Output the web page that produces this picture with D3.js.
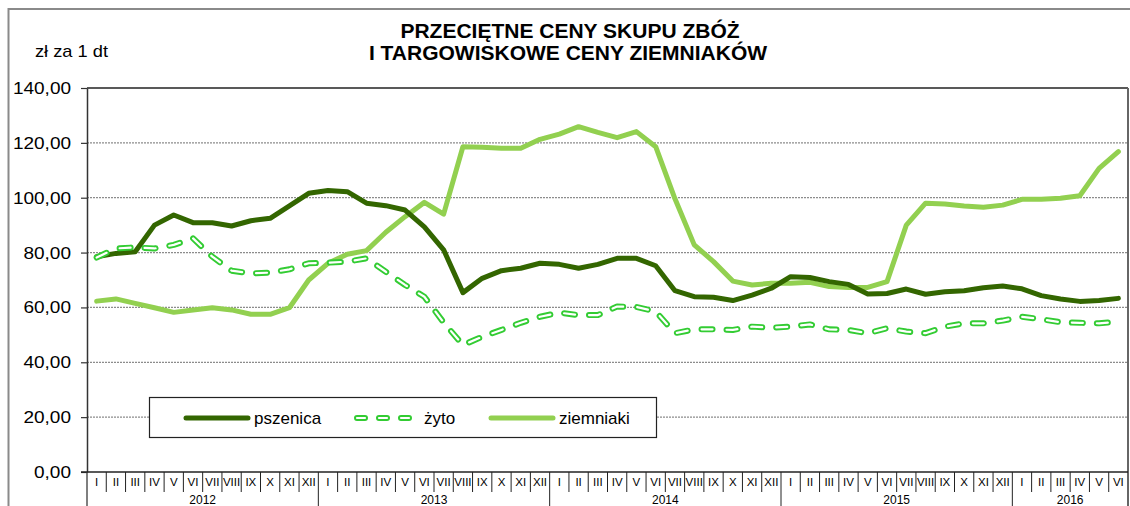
<!DOCTYPE html>
<html>
<head>
<meta charset="utf-8">
<script src="https://cdn.jsdelivr.net/npm/d3@7"></script>
<style>
  body { margin: 0; background: #fff; }
  svg { display: block; font-family: "Liberation Sans", Arial, sans-serif; }
</style>
</head>
<body>
<div class="container"></div>
<script>
// month labels and years on the category axis
const monthNames = ["I","II","III","IV","V","VI","VII","VIII","IX","X","XI","XII"];
const years = ["2012", "2013", "2014", "2015", "2016"];
const monthsIn2016 = 6;

// prices, zł za 1 dt, from I 2012 to VI 2016
const pszenica = [78.5, 79.7, 80.3, 90.0, 93.7, 90.9, 90.9, 89.7, 91.6, 92.5, 97.0, 101.6,
                  102.6, 102.2, 98.0, 97.1, 95.5, 89.4, 81.0, 65.4, 70.6, 73.4, 74.3, 76.1,
                  75.7, 74.3, 75.7, 77.9, 77.9, 75.2, 66.1, 63.9, 63.7, 62.5, 64.5, 67.0,
                  71.2, 70.9, 69.4, 68.4, 64.9, 65.1, 66.7, 64.8, 65.7, 66.1, 67.2, 67.8,
                  66.8, 64.3, 63.1, 62.2, 62.5, 63.3];
const zyto = [78.2, 81.5, 81.9, 81.5, 82.8, 85.2, 78.5, 73.4, 72.4, 72.7, 73.9, 76.1,
              76.3, 76.7, 77.9, 73.0, 68.2, 63.9, 54.5, 46.3, 49.3, 51.8, 54.4, 56.6,
              58.1, 57.2, 57.2, 60.3, 60.2, 58.5, 50.6, 52.0, 52.0, 51.8, 53.0, 52.6,
              53.0, 53.8, 52.0, 51.8, 50.6, 52.4, 51.2, 50.6, 53.0, 54.2, 54.2, 55.2,
              56.6, 55.7, 54.6, 54.4, 54.2, 54.8];
const ziemniaki = [62.3, 63.1, 61.5, 59.9, 58.2, 59.1, 59.9, 59.1, 57.5, 57.5, 59.9, 70.0,
                   76.1, 79.4, 80.7, 87.4, 93.1, 98.3, 94.0, 118.6, 118.4, 118.0, 118.0, 121.3,
                   123.2, 125.9, 123.8, 121.9, 124.1, 118.6, 99.6, 82.8, 76.7, 69.6, 68.2, 68.8,
                   68.8, 69.2, 67.6, 67.3, 67.3, 69.4, 90.0, 98.0, 97.7, 97.0, 96.5, 97.3,
                   99.4, 99.4, 99.8, 100.7, 110.7, 116.8];

const yTicks = [0, 20, 40, 60, 80, 100, 120, 140];

const colPszenica = "#336600";
const colZyto = "#33cc33";
const colZiemniaki = "#92d050";

const width = 1130, height = 506;
const margin = {left: 87, right: 2, top: 88, bottom: 34};

// build the category list (one entry per month)
const periods = [];
years.forEach((y, yi) => {
  const n = (yi === years.length - 1) ? monthsIn2016 : 12;
  for (let m = 0; m < n; m++) periods.push({year: y, month: monthNames[m], key: y + "-" + m});
});

const svg = d3.select(".container").append("svg")
  .attr("width", width).attr("height", height);

// outer frame of the chart
svg.append("rect")
  .attr("x", 8.5).attr("y", 9)
  .attr("width", width + 20).attr("height", height + 20)
  .attr("fill", "none").attr("stroke", "#8a8a8a").attr("stroke-width", 2);

const x = d3.scaleBand()
  .domain(periods.map(d => d.key))
  .range([margin.left, width - margin.right]);

const y = d3.scaleLinear()
  .domain([0, 140])
  .range([height - margin.bottom, margin.top]);

const fmt = v => d3.format(".2f")(v).replace(".", ",");

// horizontal dotted gridlines
svg.append("g")
  .selectAll("line")
  .data(yTicks.filter(t => t > 0 && t < 140))
  .enter().append("line")
  .attr("x1", margin.left).attr("x2", width - margin.right)
  .attr("y1", d => y(d)).attr("y2", d => y(d))
  .attr("stroke", "#8c8c8c").attr("stroke-width", 1.2)
  .attr("stroke-dasharray", "2,1");

// plot area top and right edges
svg.append("line")
  .attr("x1", margin.left).attr("x2", width - margin.right)
  .attr("y1", y(140)).attr("y2", y(140))
  .attr("stroke", "#222").attr("stroke-width", 1.3);
svg.append("line")
  .attr("x1", width - margin.right).attr("x2", width - margin.right)
  .attr("y1", y(140)).attr("y2", height)
  .attr("stroke", "#666").attr("stroke-width", 2);

// y axis (labels are a bit wider than plain Arial in the original)
const yAxis = svg.append("g")
  .attr("transform", `translate(${margin.left},0)`)
  .call(d3.axisLeft(y).tickValues(yTicks).tickFormat(fmt).tickSize(6).tickPadding(10).tickSizeOuter(0));
yAxis.select(".domain").attr("stroke", "#333").attr("stroke-width", 1.5);
yAxis.selectAll(".tick line").attr("stroke", "#333").attr("stroke-width", 1.2);
yAxis.selectAll("text")
  .attr("font-family", "Liberation Sans, Arial, sans-serif")
  .attr("font-size", 17).attr("fill", "#000")
  .attr("textLength", d => {
    const digits = fmt(d).length - 1;
    return 19 * (digits * 0.556 + 0.278);
  })
  .attr("lengthAdjust", "spacingAndGlyphs");

// left axis keeps going under the month row
svg.append("line")
  .attr("x1", margin.left).attr("x2", margin.left)
  .attr("y1", y(0)).attr("y2", height)
  .attr("stroke", "#555").attr("stroke-width", 1.5);

// x axis baseline
svg.append("line")
  .attr("x1", margin.left - 6).attr("x2", width - margin.right)
  .attr("y1", y(0)).attr("y2", y(0))
  .attr("stroke", "#222").attr("stroke-width", 1.5);

// month separators, longer at year boundaries
const xAxisG = svg.append("g");
xAxisG.selectAll("line.sep")
  .data(periods.slice(1))
  .enter().append("line")
  .attr("class", "sep")
  .attr("x1", d => x(d.key)).attr("x2", d => x(d.key))
  .attr("y1", y(0))
  .attr("y2", d => d.month === "I" ? height : y(0) + 20)
  .attr("stroke", "#222").attr("stroke-width", 1);

xAxisG.selectAll("text.month")
  .data(periods)
  .enter().append("text")
  .attr("class", "month")
  .attr("x", d => x(d.key) + x.bandwidth() / 2)
  .attr("y", y(0) + 14)
  .attr("text-anchor", "middle")
  .attr("font-size", 11.5)
  .text(d => d.month);

xAxisG.selectAll("text.year")
  .data(years)
  .enter().append("text")
  .attr("class", "year")
  .attr("x", yr => {
    const ps = periods.filter(p => p.year === yr);
    return (x(ps[0].key) + x(ps[ps.length - 1].key) + x.bandwidth()) / 2;
  })
  .attr("y", y(0) + 32)
  .attr("text-anchor", "middle")
  .attr("font-size", 12)
  .text(d => d);

// series lines
const line = d3.line()
  .x((d, i) => x(periods[i].key) + x.bandwidth() / 2)
  .y(d => y(d));

svg.append("path").datum(ziemniaki)
  .attr("d", line).attr("fill", "none")
  .attr("stroke", colZiemniaki).attr("stroke-width", 5)
  .attr("stroke-linejoin", "round").attr("stroke-linecap", "round");

svg.append("path").datum(pszenica)
  .attr("d", line).attr("fill", "none")
  .attr("stroke", colPszenica).attr("stroke-width", 5)
  .attr("stroke-linejoin", "round").attr("stroke-linecap", "round");

// żyto: hollow dashes - green dashed stroke with a thin white one on top
const drawHollowDash = (sel, d, dash) => {
  sel.append("path").attr("d", d).attr("fill", "none")
    .attr("stroke", colZyto).attr("stroke-width", 6)
    .attr("stroke-dasharray", dash).attr("stroke-linecap", "round")
    .attr("stroke-linejoin", "round");
  sel.append("path").attr("d", d).attr("fill", "none")
    .attr("stroke", "#fff").attr("stroke-width", 2.2)
    .attr("stroke-dasharray", dash).attr("stroke-linecap", "round")
    .attr("stroke-linejoin", "round");
};
drawHollowDash(svg.append("g"), line(zyto), "11,14");

// legend
const legend = svg.append("g").attr("id", "legend");
legend.append("rect")
  .attr("x", 149.5).attr("y", 397.5).attr("width", 507).attr("height", 40)
  .attr("fill", "#fff").attr("stroke", "#222").attr("stroke-width", 1.2);

const legendItems = [
  {name: "pszenica", x0: 186, x1: 248, color: colPszenica, dashed: false},
  {name: "żyto", x0: 357, x1: 411, color: colZyto, dashed: true},
  {name: "ziemniaki", x0: 491, x1: 553, color: colZiemniaki, dashed: false}
];
const ly = 418;
legendItems.forEach(it => {
  const seg = `M${it.x0},${ly}L${it.x1},${ly}`;
  if (it.dashed) {
    drawHollowDash(legend, seg, "8,14");
  } else {
    legend.append("path").attr("d", seg).attr("fill", "none")
      .attr("stroke", it.color).attr("stroke-width", 5).attr("stroke-linecap", "round");
  }
  legend.append("text")
    .attr("x", it.x1 + (it.dashed ? 13 : 6)).attr("y", ly + 6)
    .attr("font-size", 17)
    .text(it.name);
});

// title and unit label
svg.append("text")
  .attr("x", 570).attr("y", 38).attr("text-anchor", "middle")
  .attr("font-size", 21).attr("font-weight", "bold")
  .text("PRZECIĘTNE CENY SKUPU ZBÓŻ");
svg.append("text")
  .attr("x", 568).attr("y", 60).attr("text-anchor", "middle")
  .attr("font-size", 21).attr("font-weight", "bold")
  .text("I TARGOWISKOWE CENY ZIEMNIAKÓW");
svg.append("text")
  .attr("x", 35).attr("y", 57)
  .attr("font-size", 17)
  .attr("textLength", 73).attr("lengthAdjust", "spacingAndGlyphs")
  .text("zł za 1 dt");
</script>
</body>
</html>
